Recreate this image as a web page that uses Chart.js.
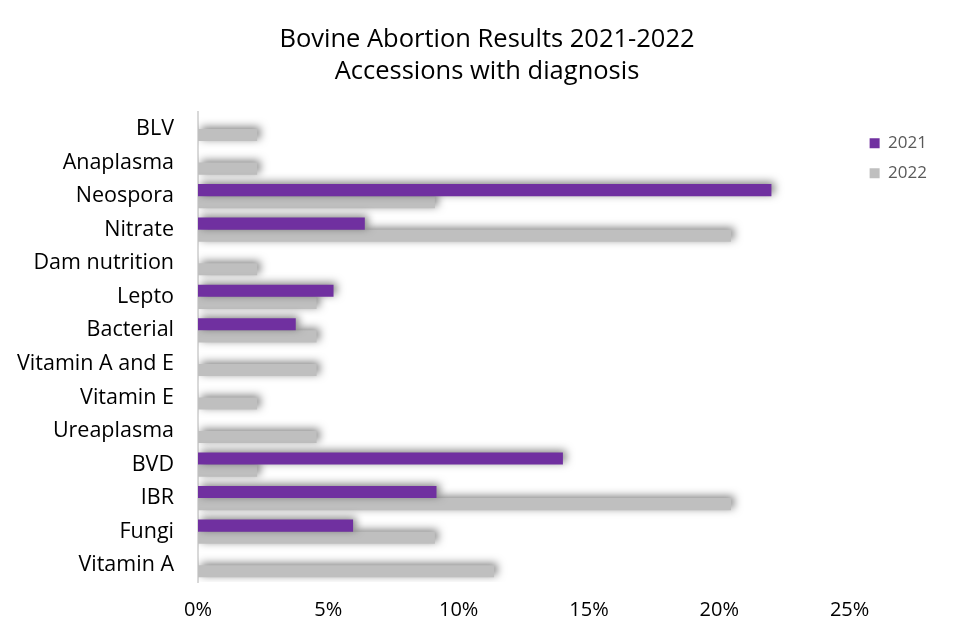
<!DOCTYPE html>
<html>
<head>
<meta charset="utf-8">
<script src="https://cdn.jsdelivr.net/npm/chart.js@4"></script>
<style>
  html, body { margin: 0; padding: 0; background: #fff; }
  #wrap { width: 974px; height: 641px; }
</style>
</head>
<body>
<div id="wrap"><canvas id="chart" width="974" height="641"></canvas></div>
<script>
const categories = ['BLV', 'Anaplasma', 'Neospora', 'Nitrate', 'Dam nutrition', 'Lepto', 'Bacterial',
  'Vitamin A and E', 'Vitamin E', 'Ureaplasma', 'BVD', 'IBR', 'Fungi', 'Vitamin A'];
const values2021 = [0, 0, 22.0, 6.4, 0, 5.2, 3.75, 0, 0, 0, 14.0, 9.15, 5.95, 0];
const values2022 = [2.27, 2.27, 9.09, 20.45, 2.27, 4.55, 4.55, 4.55, 2.27, 4.55, 2.27, 20.45, 9.09, 11.36];
const tickLabels = ['0%', '5%', '10%', '15%', '20%', '25%'];

const FONT = "'Open Sans', 'Noto Sans', sans-serif";

// soft shadow behind the bars, like the office chart
const barShadow = {
  id: 'barShadow',
  beforeDatasetsDraw(chart) {
    const ctx = chart.ctx;
    ctx.save();
    ctx.shadowColor = 'rgba(0,0,0,0.5)';
    ctx.shadowBlur = 8;
    ctx.shadowOffsetX = 3;
    ctx.shadowOffsetY = -2;
  },
  afterDatasetsDraw(chart) {
    chart.ctx.restore();
  }
};

// center the title on the whole canvas, nudge legend a bit away from the plot
const tweakLayout = {
  id: 'tweakLayout',
  afterLayout(chart) {
    const t = chart.titleBlock;
    if (t) {
      t.left = 0;
      t.right = chart.width;
      t.width = chart.width;
    }
    const lg = chart.legend;
    if (lg) {
      lg.left += 7;
      lg.right += 7;
    }
  }
};

new Chart(document.getElementById('chart'), {
  type: 'bar',
  data: {
    labels: categories,
    datasets: [
      { label: '2021', data: values2021, backgroundColor: '#7030A0', categoryPercentage: 0.72, barPercentage: 1.0 },
      { label: '2022', data: values2022, backgroundColor: '#BFBFBF', categoryPercentage: 0.72, barPercentage: 1.0 }
    ]
  },
  options: {
    indexAxis: 'y',
    responsive: false,
    animation: false,
    layout: { padding: { left: 0, right: 44, top: 0, bottom: 3 } },
    plugins: {
      title: {
        display: true,
        text: ['Bovine Abortion Results 2021-2022', 'Accessions with diagnosis'],
        color: '#000',
        font: { family: FONT, size: 25.5, weight: 'normal', lineHeight: 1.26 },
        padding: { top: 24, bottom: 24 }
      },
      legend: {
        position: 'right',
        align: 'start',
        fullSize: false,
        title: { display: true, text: '', padding: 0, font: { size: 8, lineHeight: 1.2 } },
        labels: {
          color: '#595959',
          font: { family: FONT, size: 17 },
          boxWidth: 10,
          boxHeight: 10,
          padding: 13
        }
      },
      tooltip: { enabled: false }
    },
    scales: {
      x: {
        min: 0,
        max: 25,
        ticks: {
          stepSize: 5,
          color: '#000',
          font: { family: FONT, size: 20 },
          padding: 16,
          callback: (v, i) => tickLabels[i]
        },
        grid: { display: false, drawTicks: false },
        border: { display: false }
      },
      y: {
        afterFit: s => { s.width = 198; },
        ticks: {
          color: '#000',
          font: { family: FONT, size: 21.5 },
          padding: 24,
          autoSkip: false
        },
        grid: { display: false, drawTicks: false },
        border: { display: true, color: '#D9D9D9', width: 2 }
      }
    }
  },
  plugins: [barShadow, tweakLayout]
});
</script>
</body>
</html>
